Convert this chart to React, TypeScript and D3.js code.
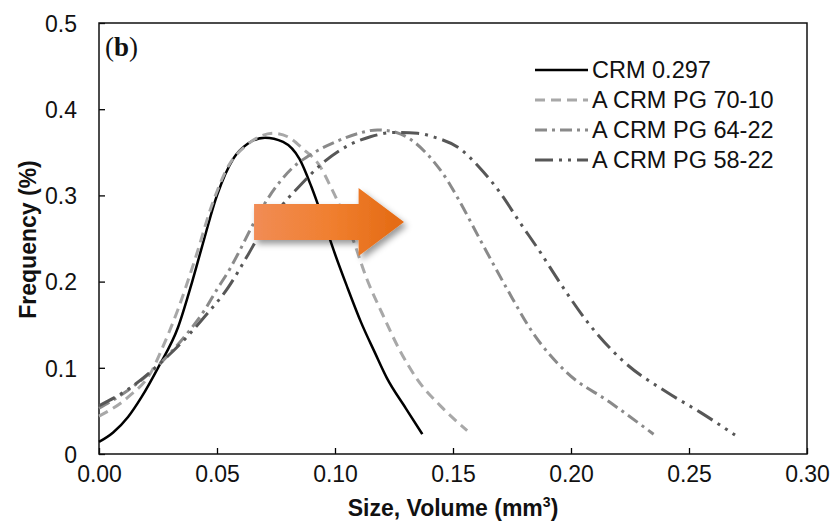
import { useEffect, useRef } from "react";
import * as d3 from "d3";

const sizeTicks = [0, 0.05, 0.1, 0.15, 0.2, 0.25, 0.3];
const freqTicks = [0, 0.1, 0.2, 0.3, 0.4, 0.5];

// [size (mm3), frequency (%)]
const crm0297 = [
  [0, 0.014], [0.006, 0.025], [0.0123, 0.043], [0.018, 0.066], [0.025, 0.1],
  [0.0335, 0.147], [0.0395, 0.2], [0.0436, 0.24], [0.05, 0.3], [0.057, 0.343],
  [0.063, 0.36], [0.0703, 0.367], [0.078, 0.362], [0.085, 0.342], [0.09, 0.31],
  [0.095, 0.272], [0.1, 0.232], [0.105, 0.195], [0.111, 0.153], [0.117, 0.117],
  [0.122, 0.088], [0.13, 0.053], [0.137, 0.023],
];
const pg7010 = [
  [0, 0.044], [0.0123, 0.066], [0.0225, 0.097], [0.0267, 0.122], [0.0335, 0.168],
  [0.0407, 0.226], [0.048, 0.29], [0.055, 0.335], [0.062, 0.357], [0.068, 0.368],
  [0.074, 0.372], [0.08, 0.368], [0.0864, 0.354], [0.0936, 0.334], [0.098, 0.311],
  [0.102, 0.288], [0.1076, 0.249], [0.1135, 0.203], [0.12, 0.163], [0.1275, 0.12],
  [0.135, 0.086], [0.145, 0.055], [0.156, 0.027],
];
const pg6422 = [
  [0, 0.053], [0.0123, 0.074], [0.027, 0.108], [0.038, 0.142], [0.045, 0.168],
  [0.05, 0.191], [0.0555, 0.215], [0.06, 0.238], [0.065, 0.265], [0.071, 0.294],
  [0.0767, 0.316], [0.082, 0.332], [0.0907, 0.349], [0.101, 0.363], [0.11, 0.372],
  [0.118, 0.376], [0.126, 0.373], [0.132, 0.365], [0.139, 0.348], [0.1475, 0.318],
  [0.152, 0.297], [0.162, 0.246], [0.173, 0.191], [0.184, 0.14], [0.198, 0.095],
  [0.2165, 0.06], [0.235, 0.023],
];
const pg5822 = [
  [0, 0.056], [0.0123, 0.075], [0.027, 0.108], [0.038, 0.138], [0.045, 0.16],
  [0.0547, 0.193], [0.0627, 0.229], [0.0695, 0.261], [0.078, 0.29], [0.085, 0.311],
  [0.095, 0.338], [0.105, 0.357], [0.115, 0.368], [0.125, 0.373], [0.135, 0.372],
  [0.1415, 0.368], [0.153, 0.354], [0.161, 0.333], [0.17, 0.303], [0.178, 0.27],
  [0.187, 0.234], [0.195, 0.2], [0.207, 0.153], [0.222, 0.108], [0.241, 0.071],
  [0.255, 0.048], [0.2695, 0.022],
];

const seriesNames = ["CRM 0.297", "A CRM PG 70-10", "A CRM PG 64-22", "A CRM PG 58-22"];
const seriesData = [crm0297, pg7010, pg6422, pg5822];
const seriesColors = ["#000000", "#a8a8a8", "#8a8a8a", "#575757"];
const seriesDashes = ["none", "10,6", "12,5,3,5", "18,6,3,6,3,6"];
const seriesWidths = [2.5, 3, 3, 3];

// arrow annotation (data units): tail, neck, tip, centre height
const arrowX = [0.0657, 0.11, 0.125];
const arrowY = 0.269;

export default function App() {
  const svgRef = useRef<SVGSVGElement>(null);
  const width = 836;
  const height = 524;

  useEffect(() => {
    const margin = { top: 23, right: 29, bottom: 70, left: 99 };
    const font = "'Liberation Sans', Arial, sans-serif";
    const svg = d3.select(svgRef.current);
    svg.selectAll("*").remove();

    const x = d3.scaleLinear().domain([0, 0.3]).range([margin.left, width - margin.right]);
    const y = d3.scaleLinear().domain([0, 0.5]).range([height - margin.bottom, margin.top]);

    const defs = svg.append("defs");
    const grad = defs
      .append("linearGradient")
      .attr("id", "arrowGrad")
      .attr("gradientUnits", "userSpaceOnUse")
      .attr("x1", x(arrowX[0]))
      .attr("x2", x(arrowX[2]))
      .attr("y1", 0)
      .attr("y2", 0);
    grad.append("stop").attr("offset", 0).attr("stop-color", "#f18c55");
    grad.append("stop").attr("offset", 0.55).attr("stop-color", "#f07f2f");
    grad.append("stop").attr("offset", 1).attr("stop-color", "#e56c16");
    defs
      .append("filter")
      .attr("id", "shadow")
      .attr("x", "-20%")
      .attr("y", "-20%")
      .attr("width", "150%")
      .attr("height", "160%")
      .append("feDropShadow")
      .attr("dx", 3)
      .attr("dy", 4)
      .attr("stdDeviation", 3)
      .attr("flood-color", "#000")
      .attr("flood-opacity", 0.4);

    // x axis
    const xAxis = svg
      .append("g")
      .attr("transform", `translate(0,${y(0)})`)
      .call(
        d3.axisBottom(x).tickValues(sizeTicks).tickFormat(d3.format(".2f")).tickSizeInner(-6).tickSizeOuter(0)
      );
    xAxis.select(".domain").remove();
    xAxis.selectAll("line").attr("stroke", "#000").attr("stroke-width", 1.3);
    xAxis
      .selectAll("text")
      .attr("font-family", font)
      .attr("font-size", 23)
      .attr("fill", "#111")
      .attr("y", 20)
      .attr("dy", "0.35em");

    // y axis
    const yAxis = svg
      .append("g")
      .attr("transform", `translate(${x(0)},0)`)
      .call(
        d3
          .axisLeft(y)
          .tickValues(freqTicks)
          .tickFormat((d) => (d === 0 ? "0" : d3.format(".1f")(d as number)))
          .tickSizeInner(-6)
          .tickSizeOuter(0)
          .tickPadding(22)
      );
    yAxis.select(".domain").remove();
    yAxis.selectAll("line").attr("stroke", "#000").attr("stroke-width", 1.3);
    yAxis
      .selectAll("text")
      .attr("font-family", font)
      .attr("font-size", 23)
      .attr("fill", "#111")
      .attr("dy", "0.36em");

    // frame
    svg
      .append("rect")
      .attr("x", x(0))
      .attr("y", y(0.5))
      .attr("width", x(0.3) - x(0))
      .attr("height", y(0) - y(0.5))
      .attr("fill", "none")
      .attr("stroke", "#111")
      .attr("stroke-width", 1.5);

    // curves
    const line = d3
      .line<number[]>()
      .x((d) => x(d[0]))
      .y((d) => y(d[1]))
      .curve(d3.curveMonotoneX);

    seriesData.forEach((data, i) => {
      svg
        .append("path")
        .datum(data)
        .attr("d", line)
        .attr("fill", "none")
        .attr("stroke", seriesColors[i])
        .attr("stroke-width", seriesWidths[i])
        .attr("stroke-dasharray", seriesDashes[i])
        .attr("stroke-linejoin", "round");
    });

    // arrow
    const ax0 = x(arrowX[0]);
    const ax1 = x(arrowX[1]);
    const ax2 = x(arrowX[2]);
    const ay = y(arrowY);
    const bh = 18;
    const hh = 34;
    svg
      .append("path")
      .attr(
        "d",
        `M${ax0},${ay - bh}L${ax1},${ay - bh}L${ax1},${ay - hh}L${ax2 + 10},${ay}L${ax1},${ay + hh}L${ax1},${ay + bh}L${ax0},${ay + bh}Z`
      )
      .attr("fill", "url(#arrowGrad)")
      .attr("filter", "url(#shadow)");

    // legend
    const legend = svg.append("g");
    seriesNames.forEach((name, i) => {
      const ly = 70 + i * 30;
      legend
        .append("line")
        .attr("x1", 535)
        .attr("x2", 588)
        .attr("y1", ly)
        .attr("y2", ly)
        .attr("stroke", seriesColors[i])
        .attr("stroke-width", seriesWidths[i])
        .attr("stroke-dasharray", seriesDashes[i]);
      legend
        .append("text")
        .attr("x", 592)
        .attr("y", ly)
        .attr("dy", "0.36em")
        .attr("font-family", font)
        .attr("font-size", 23.5)
        .attr("fill", "#111")
        .text(name);
    });

    // panel label
    const lab = svg
      .append("text")
      .attr("x", 105)
      .attr("y", 56)
      .attr("font-family", "'Liberation Serif', 'Times New Roman', serif")
      .attr("font-size", 27)
      .attr("fill", "#111");
    lab.append("tspan").text("(");
    lab.append("tspan").attr("font-weight", "bold").text("b");
    lab.append("tspan").text(")");

    // axis titles
    const xt = svg
      .append("text")
      .attr("x", (x(0) + x(0.3)) / 2)
      .attr("y", 516)
      .attr("text-anchor", "middle")
      .attr("font-family", font)
      .attr("font-weight", "bold")
      .attr("font-size", 23)
      .attr("fill", "#111");
    xt.append("tspan").text("Size, Volume (mm");
    xt.append("tspan").attr("font-size", 14).attr("dy", -9).text("3");
    xt.append("tspan").attr("dy", 9).text(")");

    svg
      .append("text")
      .attr("transform", `translate(36,${(y(0) + y(0.5)) / 2 + 1}) rotate(-90)`)
      .attr("text-anchor", "middle")
      .attr("font-family", font)
      .attr("font-weight", "bold")
      .attr("font-size", 23)
      .attr("fill", "#111")
      .text("Frequency (%)");
  }, []);

  return (
    <svg
      ref={svgRef}
      width={width}
      height={height}
      style={{ position: "absolute", left: 0, top: 0, background: "#fff" }}
    ></svg>
  );
}
